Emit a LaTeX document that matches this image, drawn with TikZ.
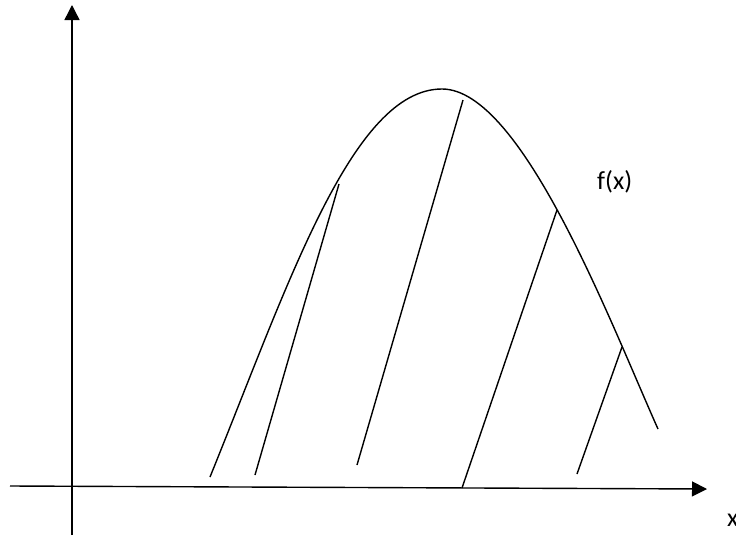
\documentclass[tikz,border=0pt]{standalone}
\usepackage{fontspec}
\setmainfont{Carlito}
\usetikzlibrary{arrows.meta}
\begin{document}
\begin{tikzpicture}[x=1pt,y=-1pt,
  ln/.style={line width=1.4pt},
  axis/.style={line width=1.4pt,-{Triangle[length=15pt,width=15pt]}},
  lbl/.style={font=\fontsize{26}{30}\selectfont,inner sep=0pt}]
\useasboundingbox (0,0) rectangle (736,536);
% axes
\coordinate (xs) at (10,486);
\coordinate (xe) at (707,489);
\coordinate (ys) at (72,535);
\coordinate (ye) at (72,5);
\draw[axis] (xs) -- (xe);
\draw[axis] (ys) -- (ye);
% curve
\coordinate (c0) at (210,477);
\coordinate (top) at (442,89);
\coordinate (c9) at (658,429);
\draw[ln] (c0) .. controls (288,285) and (352,89) .. (top)
              .. controls (522,89) and (611,324) .. (c9);
% lines
\coordinate (a1) at (255,475); \coordinate (a2) at (339,184);
\coordinate (b1) at (357,465); \coordinate (b2) at (463,100);
\coordinate (c1) at (462,488); \coordinate (c2) at (557,210);
\coordinate (d1) at (577,474); \coordinate (d2) at (622,347);
\draw[ln] (a1) -- (a2);
\draw[ln] (b1) -- (b2);
\draw[ln] (c1) -- (c2);
\draw[ln] (d1) -- (d2);
% labels
\node[lbl,anchor=base west] (fx) at (597,189) {f(x)};
\node[lbl,anchor=base west] (xl) at (727,526) {x};
\end{tikzpicture}
\end{document}
